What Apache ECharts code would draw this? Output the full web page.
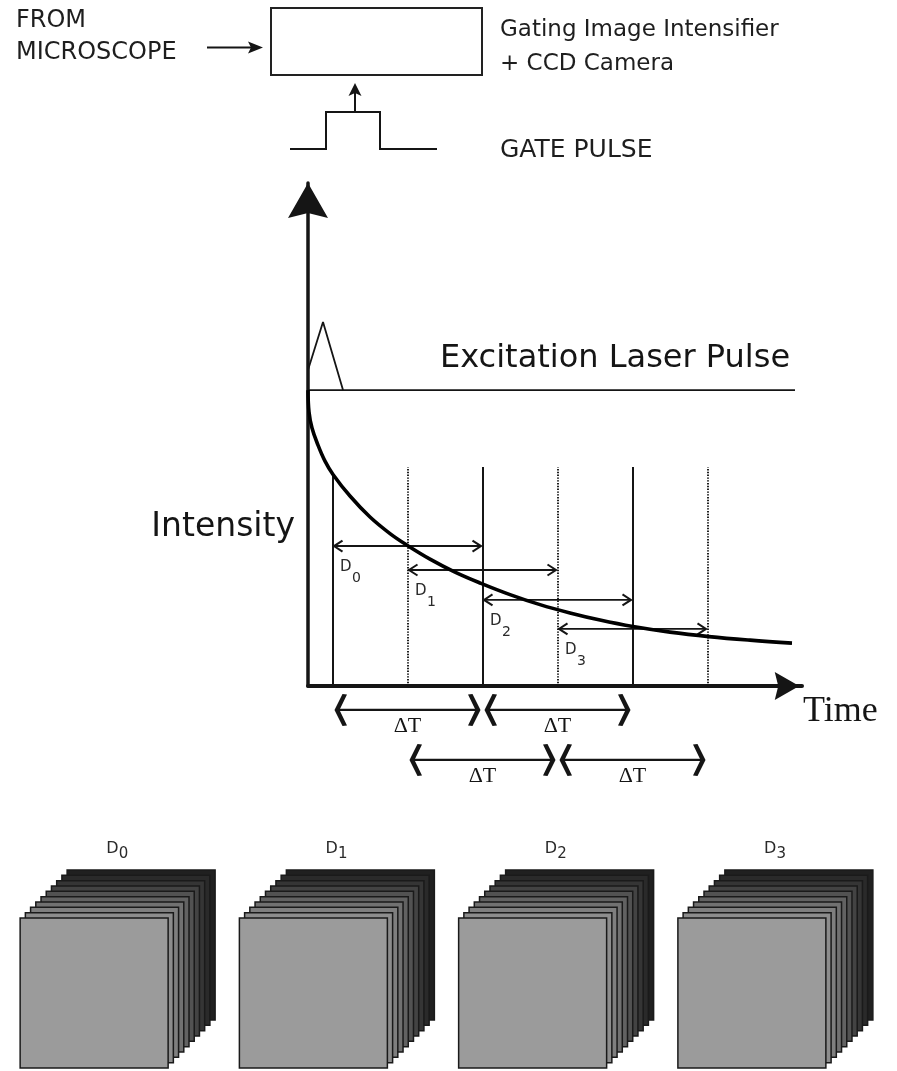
<!DOCTYPE html>
<html>
<head>
<meta charset="utf-8">
<script src="https://cdn.jsdelivr.net/npm/echarts@6/dist/echarts.min.js"></script>
<style>html,body{margin:0;padding:0;background:#fff}#chart{width:897px;height:1071px}</style>
</head>
<body>
<div id="chart"></div>
<script>
// ================= DATA =================
// --- main plot: time (arbitrary units) vs intensity ---
const timeAxisMax = 19.76;
const intensityAxisMax = 17;
const decayTime      = [0, 0.04, 0.16, 0.4, 0.68, 1.0, 1.68, 2.48, 3.28, 3.96, 4.88, 5.88, 6.92, 8.08, 9.28, 10.48, 11.68, 13.0, 14.48, 16.04, 17.68, 19.36];
const decayIntensity = [10, 9.26, 8.72, 8.14, 7.6, 7.15, 6.42, 5.71, 5.15, 4.76, 4.29, 3.85, 3.47, 3.09, 2.75, 2.47, 2.23, 2.01, 1.82, 1.67, 1.55, 1.45];
const excitationLevel = 10;
const excitationTime = [0, 19.48];
const laserPulseTime = [0, 0.6, 1.4];
const laserPulseIntensity = [10.68, 12.3, 10];
const gateStart = [1, 4, 7, 10, 13, 16];
const gateTop = [7.15, 7.4, 7.4, 7.4, 7.4, 7.4];
const gateDotted = [0, 1, 0, 1, 0, 1];
const gateWidth = 6;
const delayIndex = ['0', '1', '2', '3'];
const delayArrowLevel = [4.73, 3.92, 2.91, 1.93];
const deltaTStart = [1, 7, 4, 10];
const deltaTLevel = [-0.81, -0.81, -2.5, -2.5];
const deltaTText = '\u0394T';
const plotLabels = ['Excitation Laser Pulse', 'Intensity', 'Time'];
const plotLabelTime = [5.28, -0.52, 19.8];
const plotLabelIntensity = [11.06, 5.35, -0.86];

// --- top schematic (reference layout units) ---
const schematicWidth = 897;
const schematicHeight = 170;
const cameraBoxX = [271, 482];
const cameraBoxY = [8, 75];
const inputArrowX = [207, 263];
const inputArrowY = 47.5;
const triggerArrowX = 355;
const triggerArrowY = [112, 83];
const gatePulseX = [290, 326, 326, 380, 380, 437];
const gatePulseY = [149, 149, 112, 112, 149, 149];
const schematicLabels = ['FROM', 'MICROSCOPE', 'Gating Image Intensifier', '+ CCD Camera', 'GATE PULSE'];
const schematicLabelX = [16, 16, 500, 500, 500];
const schematicLabelY = [20.5, 53, 30.5, 64.5, 150.5];

// --- bottom image stacks ---
const stackIndex = ['0', '1', '2', '3'];
const sheetsPerStack = [10, 10, 10, 10];
const sheetFaceHeight = 150;
const stackAxisMax = 200;

// ================= STYLE =================
const INK = '#151515';
const SANS = '"DejaVu Sans", "Liberation Sans", sans-serif';
const SERIF = '"Liberation Serif", "DejaVu Serif", serif';
const plotLabelStyle = [
  { fontSize: 32, fontFamily: SANS, align: 'left' },
  { fontSize: 33, fontFamily: SANS, align: 'right' },
  { fontSize: 36, fontFamily: SERIF, align: 'left' }
];
const schematicFontSize = [24, 24, 23, 23, 25];
const sheetColors = ['#9b9b9b', '#8d8d8d', '#7f7f7f', '#717171', '#626262', '#525252', '#434343', '#353535', '#2a2a2a', '#202020'];
const arrowPath = 'path://M20,0 L40,35 L20,30 L0,35 Z';

// ================= BUILD =================
const decayData = decayTime.map((t, i) => [t, decayIntensity[i]]);
const excitationData = excitationTime.map(t => [t, excitationLevel]);
const laserData = laserPulseTime.map((t, i) => [t, laserPulseIntensity[i]]);
const gateData = gateStart.map((t, i) => [t, gateTop[i], gateDotted[i]]);
const delayData = delayIndex.map((d, i) => [gateStart[i], gateStart[i] + gateWidth, delayArrowLevel[i], i]);
const deltaTData = deltaTStart.map((t, i) => [t, t + gateWidth, deltaTLevel[i]]);
const plotLabelData = plotLabels.map((s, i) => [plotLabelTime[i], plotLabelIntensity[i], i]);
const stackData = stackIndex.map((s, i) => [i, sheetsPerStack[i]]);

function txt(x, y, text, size, family, align, color) {
  return { type: 'text', x: x, y: y, style: { text: text, fill: color || INK, fontSize: size, fontFamily: family, align: align || 'left', verticalAlign: 'middle' } };
}

function chevron(tipX, tipY, dir) {
  const pts = [[0, 0], [8, -16], [12.5, -15.5], [5, 0], [12.5, 15.5], [8, 16]];
  return { type: 'polygon', shape: { points: pts.map(p => [tipX - dir * p[0], tipY + p[1]]) }, style: { fill: INK } };
}

function openHead(tipX, tipY, dir) {
  return { type: 'polyline', shape: { points: [[tipX - dir * 8.5, tipY - 5.5], [tipX, tipY], [tipX - dir * 8.5, tipY + 5.5]] }, style: { stroke: INK, lineWidth: 2, fill: null } };
}

const option = {
  animation: false,
  backgroundColor: '#ffffff',
  grid: [
    { left: 308, top: 183, width: 494, height: 503, outerBoundsMode: 'none' },
    { left: 0, top: 0, width: 897, height: 170, outerBoundsMode: 'none' },
    { left: 8, top: 868, width: 877, height: 200, outerBoundsMode: 'none' }
  ],
  xAxis: [
    { gridIndex: 0, type: 'value', min: 0, max: timeAxisMax,
      axisLine: { show: true, onZero: false, lineStyle: { color: INK, width: 4 }, symbol: ['none', arrowPath], symbolSize: [28, 30], symbolOffset: [0, -15] },
      axisTick: { show: false }, axisLabel: { show: false }, splitLine: { show: false } },
    { gridIndex: 1, type: 'value', min: 0, max: schematicWidth, show: false },
    { gridIndex: 2, type: 'category', data: stackIndex, show: false }
  ],
  yAxis: [
    { gridIndex: 0, type: 'value', min: 0, max: intensityAxisMax,
      axisLine: { show: true, onZero: false, lineStyle: { color: INK, width: 3.5 }, symbol: ['none', arrowPath], symbolSize: [40, 35], symbolOffset: [0, -17.5] },
      axisTick: { show: false }, axisLabel: { show: false }, splitLine: { show: false } },
    { gridIndex: 1, type: 'value', min: 0, max: schematicHeight, inverse: true, show: false },
    { gridIndex: 2, type: 'value', min: 0, max: stackAxisMax, show: false }
  ],
  series: [
    { type: 'line', xAxisIndex: 0, yAxisIndex: 0, data: excitationData, showSymbol: false, lineStyle: { color: INK, width: 1.8 }, z: 2 },
    { type: 'line', xAxisIndex: 0, yAxisIndex: 0, data: laserData, showSymbol: false, lineStyle: { color: INK, width: 1.8 }, z: 2 },
    { type: 'custom', xAxisIndex: 0, yAxisIndex: 0, data: gateData, z: 2,
      renderItem: function (params, api) {
        const p0 = api.coord([api.value(0), 0]);
        const p1 = api.coord([api.value(0), api.value(1)]);
        const dotted = api.value(2) === 1;
        return { type: 'line', shape: { x1: p0[0], y1: p0[1], x2: p1[0], y2: p1[1] },
          style: { stroke: INK, lineWidth: dotted ? 1.9 : 2, lineDash: dotted ? [1.4, 1.4] : null } };
      } },
    { type: 'line', xAxisIndex: 0, yAxisIndex: 0, data: decayData, showSymbol: false, smooth: 0.4, lineStyle: { color: '#000', width: 3.6 }, z: 5 },
    { type: 'custom', xAxisIndex: 0, yAxisIndex: 0, data: delayData, z: 4,
      renderItem: function (params, api) {
        const y = api.value(2);
        const a = api.coord([api.value(0), y]);
        const b = api.coord([api.value(1), y]);
        const k = api.value(3);
        return { type: 'group', children: [
          { type: 'line', shape: { x1: a[0], y1: a[1], x2: b[0] - 2, y2: b[1] }, style: { stroke: INK, lineWidth: 1.9 } },
          openHead(a[0] + 1, a[1], -1),
          openHead(b[0] - 2, b[1], 1),
          txt(a[0] + 7, a[1] + 21, 'D', 15, SANS, 'left', '#2a2a2a'),
          txt(a[0] + 19, a[1] + 32, delayIndex[k], 14, SANS, 'left', '#2a2a2a')
        ] };
      } },
    { type: 'custom', xAxisIndex: 0, yAxisIndex: 0, data: deltaTData, z: 4,
      renderItem: function (params, api) {
        const y = api.value(2);
        const a = api.coord([api.value(0), y]);
        const b = api.coord([api.value(1), y]);
        const l = a[0] + 1.5, r = b[0] - 2.5;
        return { type: 'group', children: [
          { type: 'line', shape: { x1: l + 3, y1: a[1], x2: r - 3, y2: a[1] }, style: { stroke: INK, lineWidth: 2.3 } },
          chevron(l, a[1], -1),
          chevron(r, a[1], 1),
          txt((l + r) / 2, a[1] + 16, deltaTText, 22, SERIF, 'center')
        ] };
      } },
    { type: 'custom', xAxisIndex: 0, yAxisIndex: 0, data: plotLabelData, z: 4,
      renderItem: function (params, api) {
        const p = api.coord([api.value(0), api.value(1)]);
        const s = plotLabelStyle[api.value(2)];
        return txt(p[0], p[1], plotLabels[api.value(2)], s.fontSize, s.fontFamily, s.align);
      } },
    { type: 'custom', xAxisIndex: 1, yAxisIndex: 1, data: [[0, 0]], z: 4,
      renderItem: function (params, api) {
        const P = (x, y) => api.coord([x, y]);
        const b0 = P(cameraBoxX[0], cameraBoxY[0]);
        const b1 = P(cameraBoxX[1], cameraBoxY[1]);
        const i0 = P(inputArrowX[0], inputArrowY);
        const i1 = P(inputArrowX[1], inputArrowY);
        const t0 = P(triggerArrowX, triggerArrowY[0]);
        const t1 = P(triggerArrowX, triggerArrowY[1]);
        const children = [
          { type: 'rect', shape: { x: b0[0], y: b0[1], width: b1[0] - b0[0], height: b1[1] - b0[1] }, style: { fill: '#fff', stroke: '#222', lineWidth: 2 } },
          { type: 'line', shape: { x1: i0[0], y1: i0[1], x2: i1[0] - 8, y2: i1[1] }, style: { stroke: INK, lineWidth: 2 } },
          { type: 'polygon', shape: { points: [[i1[0], i1[1]], [i1[0] - 15, i1[1] - 6], [i1[0] - 12, i1[1]], [i1[0] - 15, i1[1] + 6]] }, style: { fill: INK } },
          { type: 'line', shape: { x1: t0[0], y1: t0[1], x2: t1[0], y2: t1[1] + 8 }, style: { stroke: INK, lineWidth: 2 } },
          { type: 'polygon', shape: { points: [[t1[0], t1[1]], [t1[0] - 6.5, t1[1] + 13], [t1[0], t1[1] + 10], [t1[0] + 6.5, t1[1] + 13]] }, style: { fill: INK } },
          { type: 'polyline', shape: { points: gatePulseX.map((x, i) => P(x, gatePulseY[i])) }, style: { stroke: INK, lineWidth: 2, fill: null } }
        ];
        schematicLabels.forEach((s, i) => {
          const p = P(schematicLabelX[i], schematicLabelY[i]);
          children.push(txt(p[0], p[1], s, schematicFontSize[i], SANS, 'left', '#1e1e1e'));
        });
        return { type: 'group', children: children };
      } },
    { type: 'custom', xAxisIndex: 2, yAxisIndex: 2, data: stackData, z: 4,
      renderItem: function (params, api) {
        const n = api.value(1);
        const c = api.coord([api.value(0), 0]);
        const band = api.size([1, 0])[0];
        const faceW = band * 0.675;
        const bottom = c[1];
        const faceTop = api.coord([api.value(0), sheetFaceHeight])[1];
        const faceH = bottom - faceTop;
        const dx = 5.22, dy = 5.33;
        const total = faceW + (n - 1) * dx;
        const left = c[0] - total / 2;
        const children = [];
        for (let k = n - 1; k >= 0; k--) {
          children.push({ type: 'rect', shape: { x: left + k * dx, y: faceTop - k * dy, width: faceW, height: faceH },
            style: { fill: sheetColors[k], stroke: '#1a1a1a', lineWidth: 1.5 } });
        }
        const labelY = faceTop - (n - 1) * dy - 21;
        children.push(txt(c[0] - 11.5, labelY, 'D', 16, SANS, 'left', '#2a2a2a'));
        children.push(txt(c[0] + 1, labelY + 5, stackIndex[params.dataIndex], 15, SANS, 'left', '#2a2a2a'));
        return { type: 'group', children: children };
      } }
  ]
};

const chart = echarts.init(document.getElementById('chart'), null, { renderer: 'canvas', width: 897, height: 1071 });
chart.setOption(option);
</script>
</body>
</html>
